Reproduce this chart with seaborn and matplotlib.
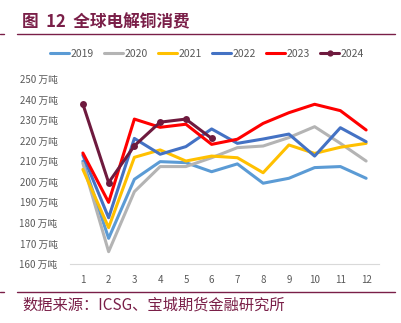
import matplotlib
matplotlib.use("Agg")
import matplotlib.pyplot as plt
import seaborn as sns
import pandas as pd
from matplotlib.lines import Line2D

months = list(range(1, 13))
years = ["2019", "2020", "2021", "2022", "2023", "2024"]
v2019 = [210, 172.5, 201.2, 209.8, 209.3, 204.9, 208.7, 199.3, 201.7, 206.9, 207.4, 201.7]
v2020 = [209, 166.0, 195.2, 207.4, 207.4, 211.7, 216.6, 217.4, 221.5, 226.8, 218.7, 210.1]
v2021 = [206, 177.7, 211.9, 215.5, 210.1, 212.5, 211.7, 204.4, 217.9, 213.8, 216.8, 218.7]
v2022 = [213, 182.5, 221.1, 213.4, 217.1, 225.7, 218.7, 220.8, 223.2, 212.5, 226.3, 219.5]
v2023 = [214, 190.0, 230.5, 226.5, 228.0, 218.2, 220.7, 228.4, 233.6, 237.7, 234.6, 225.2]
v2024 = [237.8, 199.6, 217.5, 229.0, 230.5, 221.1]
y_ticks = [160, 170, 180, 190, 200, 210, 220, 230, 240, 250]
y_labels = [f"{t} 万吨" for t in y_ticks]
title = "图  12  全球电解铜消费"
source = "数据来源：ICSG、宝城期货金融研究所"

colors = {"2019": "#5B9BD5", "2020": "#B4B4B4", "2021": "#FFC000",
          "2022": "#4472C4", "2023": "#FF0000", "2024": "#6E1A3E"}

series = {"2019": v2019, "2020": v2020, "2021": v2021, "2022": v2022,
          "2023": v2023, "2024": v2024}
rows = []
for y in years:
    for m, v in zip(months, series[y]):
        rows.append({"month": m, "value": v, "year": y})
df = pd.DataFrame(rows)

sns.set_theme(style="white")
plt.rcParams["font.family"] = ["Noto Sans CJK SC", "DejaVu Sans"]

fig = plt.figure(figsize=(4.01, 3.23), dpi=100)
ax = fig.add_axes([70/401, 1-264/323, (379-70)/401, (264-79)/323])

df_main = df[df["year"] != "2024"]
sns.lineplot(data=df_main, x="month", y="value", hue="year", palette=colors,
             linewidth=2.2, ax=ax, legend=False, sort=False)
df24 = df[df["year"] == "2024"]
sns.lineplot(data=df24, x="month", y="value", color=colors["2024"], linewidth=2.2,
             marker="o", markersize=5, markeredgewidth=0, ax=ax, legend=False)

ax.set_xlim(0.5, 12.5)
ax.set_ylim(160, 250)
ax.set_xticks(months)
ax.set_xticklabels([str(m) for m in months])
ax.set_yticks(y_ticks)
ax.set_yticklabels(y_labels)
ax.tick_params(axis="both", length=0, labelsize=7, colors="#595959", pad=8)
ax.tick_params(axis="y", pad=9)
ax.set_xlabel("")
ax.set_ylabel("")
for s in ["top", "right", "left"]:
    ax.spines[s].set_visible(False)
ax.spines["bottom"].set_color("#D9D9D9")
ax.spines["bottom"].set_linewidth(0.8)
ax.grid(False)

handles = []
for y in years:
    if y == "2024":
        handles.append(Line2D([0], [0], color=colors[y], lw=2.2, marker="o", markersize=4.5, markeredgewidth=0))
    else:
        handles.append(Line2D([0], [0], color=colors[y], lw=2.2))
leg = fig.legend(handles, years, loc="center", bbox_to_anchor=(207/401, 1-54/323), ncol=6,
                 frameon=False, fontsize=7.5, handlelength=1.9, handletextpad=0.15,
                 columnspacing=0.9, labelcolor="#595959")

tc = "#7A1F48"
fig.text(22/401, 1-22/323, title, fontsize=12, fontweight="bold", color=tc, va="center", ha="left")
fig.add_artist(Line2D([17/401, 395/401], [1-34/323, 1-34/323], color=tc, lw=1.0, transform=fig.transFigure))
fig.add_artist(Line2D([0, 4/401], [1-34/323, 1-34/323], color=tc, lw=1.0, transform=fig.transFigure))
fig.add_artist(Line2D([17/401, 395/401], [1-292/323, 1-292/323], color=tc, lw=1.0, transform=fig.transFigure))
fig.add_artist(Line2D([0, 4/401], [1-292/323, 1-292/323], color=tc, lw=1.0, transform=fig.transFigure))
fig.text(22/401, 1-305/323, source, fontsize=11, color=tc, va="center", ha="left")

fig.savefig("out.png", dpi=100)
